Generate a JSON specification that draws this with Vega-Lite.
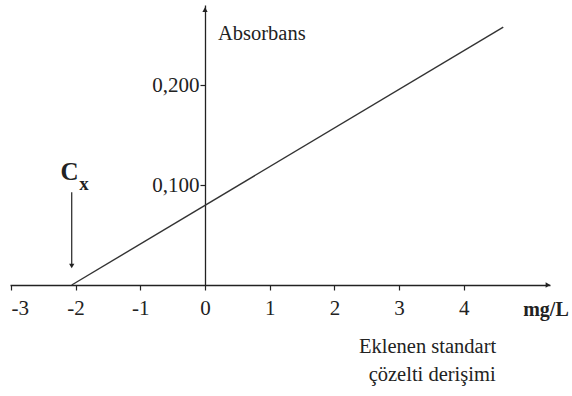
{
  "$schema": "https://vega.github.io/schema/vega-lite/v6.json",
  "autosize": {"type": "none"},
  "width": 540,
  "height": 280,
  "padding": {"left": 10, "top": 5, "right": 22, "bottom": 111},
  "background": "white",
  "config": {"view": {"stroke": null}, "font": "Liberation Serif"},
  "layer": [
    {
      "data": {"values": [{"x": -2.06, "y": 0}, {"x": 4.61, "y": 0.2585}]},
      "mark": {"type": "line", "color": "#333333", "strokeWidth": 1.4},
      "encoding": {
        "x": {"field": "x", "type": "quantitative",
          "scale": {"domain": [-3.014, 5.332], "nice": false, "zero": false},
          "axis": {"orient": "bottom", "values": [-3, -2, -1, 0, 1, 2, 3, 4], "title": null, "grid": false,
            "labelExpr": "'' + datum.value", "labelFont": "Liberation Serif", "labelFontSize": 21, "labelColor": "#222222",
            "labelPadding": 7, "tickSize": 5, "tickColor": "#222222", "domainColor": "#222222", "domainWidth": 1.3, "tickWidth": 1.2}},
        "y": {"field": "y", "type": "quantitative",
          "scale": {"domain": [0, 0.2806], "nice": false},
          "axis": {"orient": "left", "offset": -195, "values": [0.1, 0.2], "title": null, "grid": false,
            "labelExpr": "replace(format(datum.value, '.3f'), '.', ',')", "labelFont": "Liberation Serif", "labelFontSize": 21, "labelColor": "#222222",
            "labelPadding": 1, "tickSize": 5, "tickColor": "#222222", "domainColor": "#222222", "domainWidth": 1.3, "tickWidth": 1.2}}
      }
    },
    {
      "data": {"values": [{"x": -2.06, "y": 0.093, "y2": 0.02}]},
      "mark": {"type": "rule", "color": "#222222", "strokeWidth": 1.2},
      "encoding": {
        "x": {"field": "x", "type": "quantitative"},
        "y": {"field": "y", "type": "quantitative"},
        "y2": {"field": "y2"}
      }
    },
    {
      "data": {"values": [
        {"x": -2.06, "y": 0.019, "shape": "triangle-down"},
        {"x": 0, "y": 0.276, "shape": "triangle-up"},
        {"x": 5.30, "y": 0, "shape": "triangle-right"}
      ]},
      "mark": {"type": "point", "filled": true, "color": "#222222", "size": 28, "opacity": 1},
      "encoding": {
        "x": {"field": "x", "type": "quantitative"},
        "y": {"field": "y", "type": "quantitative"},
        "shape": {"field": "shape", "type": "nominal", "scale": null, "legend": null}
      }
    },
    {
      "data": {"values": [{"x": 0.2, "y": 0.2515, "t": "Absorbans"}]},
      "mark": {"type": "text", "font": "Liberation Serif", "fontSize": 20.5, "color": "#222222", "baseline": "middle", "align": "left"},
      "encoding": {
        "x": {"field": "x", "type": "quantitative"},
        "y": {"field": "y", "type": "quantitative"},
        "text": {"field": "t"}
      }
    },
    {
      "data": {"values": [
        {"x": 3.44, "y": -0.0621, "t": "Eklenen standart"},
        {"x": 3.51, "y": -0.0902, "t": "çözelti derişimi"}
      ]},
      "mark": {"type": "text", "font": "Liberation Serif", "fontSize": 20.5, "color": "#222222", "baseline": "middle", "align": "center"},
      "encoding": {
        "x": {"field": "x", "type": "quantitative"},
        "y": {"field": "y", "type": "quantitative"},
        "text": {"field": "t"}
      }
    },
    {
      "data": {"values": [
        {"x": 5.27, "y": -0.025, "t": "mg/L", "s": 20},
        {"x": -2.094, "y": 0.113, "t": "C", "s": 25},
        {"x": -1.87, "y": 0.1015, "t": "x", "s": 19}
      ]},
      "mark": {"type": "text", "font": "Liberation Serif", "fontWeight": "bold", "color": "#222222", "baseline": "middle", "align": "center"},
      "encoding": {
        "x": {"field": "x", "type": "quantitative"},
        "y": {"field": "y", "type": "quantitative"},
        "text": {"field": "t"},
        "size": {"field": "s", "type": "quantitative", "scale": null, "legend": null}
      }
    }
  ]
}
